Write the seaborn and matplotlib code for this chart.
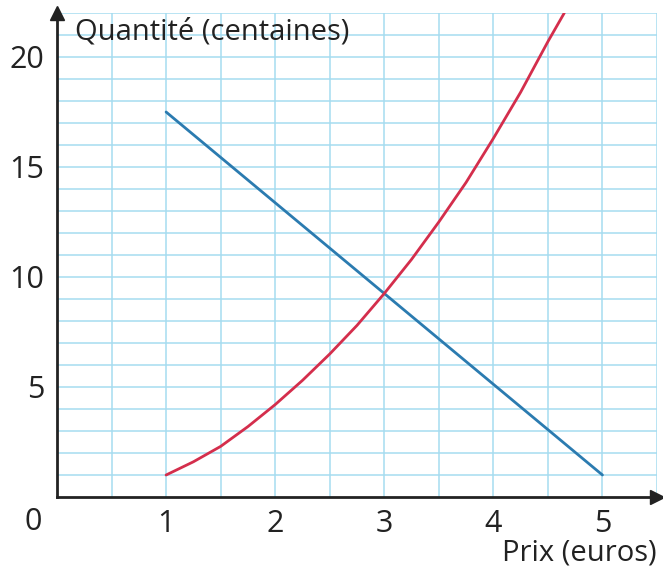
import matplotlib
matplotlib.use("Agg")
import matplotlib.pyplot as plt
import seaborn as sns
import pandas as pd

# Offre (rouge) et demande (bleue) en fonction du prix
prix_demande = [1, 5]
quantite_demande = [17.5, 1]

prix_offre = [1, 1.25, 1.5, 1.75, 2, 2.25, 2.5, 2.75, 3, 3.25, 3.5, 3.75, 4, 4.25, 4.5, 4.65]
quantite_offre = [1.0, 1.6, 2.3, 3.2, 4.2, 5.3, 6.5, 7.8, 9.25, 10.8, 12.5, 14.3, 16.3, 18.4, 20.7, 22.0]

x_ticks = [1, 2, 3, 4, 5]
y_ticks = [5, 10, 15, 20]

sns.set_style("white")
plt.rcParams['font.family'] = ['Open Sans', 'DejaVu Sans']

fig = plt.figure(figsize=(6.63, 5.72), dpi=100)
ax = fig.add_axes([57 / 663, 75 / 572, 600 / 663, 484 / 572])

demande = pd.DataFrame({'prix': prix_demande, 'quantite': quantite_demande})
offre = pd.DataFrame({'prix': prix_offre, 'quantite': quantite_offre})

sns.lineplot(data=demande, x='prix', y='quantite', color='#2b7bb0', linewidth=2, ax=ax)
sns.lineplot(data=offre, x='prix', y='quantite', color='#d42e4c', linewidth=2, ax=ax)
for ln in ax.lines:
    ln.set_solid_joinstyle('round')

ax.set_xlim(0, 5.5)
ax.set_ylim(0, 22)

# Papier millimétré : pas de 0.5 en x, 1 en y
ax.set_xticks(x_ticks)
ax.set_yticks(y_ticks)
ax.set_xticks([i * 0.5 for i in range(1, 12)], minor=True)
ax.set_yticks(range(1, 23), minor=True)
ax.grid(which='both', color='#a6dcf0', linewidth=1.1)
ax.set_axisbelow(True)
ax.tick_params(which='minor', length=0)
ax.tick_params(which='major', direction='inout', length=12, width=1.5, color='#222222',
               labelsize=22, labelcolor='#222222', pad=3)

for s in ['top', 'right']:
    ax.spines[s].set_visible(False)
for s in ['left', 'bottom']:
    ax.spines[s].set_color('#222222')
    ax.spines[s].set_linewidth(2)

# Flèches des axes
ax.plot(1.0, 0, '>', color='#222222', markersize=10, transform=ax.get_yaxis_transform(), clip_on=False)
ax.plot(0, 1.0, '^', color='#222222', markersize=10, transform=ax.get_xaxis_transform(), clip_on=False)

ax.set_xlabel('')
ax.set_ylabel('')
ax.text(-0.04, -0.052, '0', transform=ax.transAxes, ha='center', va='center', fontsize=22, color='#222222')
ax.text(0.03, 0.96, 'Quantité (centaines)', transform=ax.transAxes, ha='left', va='center',
        fontsize=21, color='#222222')
ax.text(1.0, -0.115, 'Prix (euros)', transform=ax.transAxes, ha='right', va='center',
        fontsize=21, color='#222222')

fig.savefig('out.png', dpi=100)
